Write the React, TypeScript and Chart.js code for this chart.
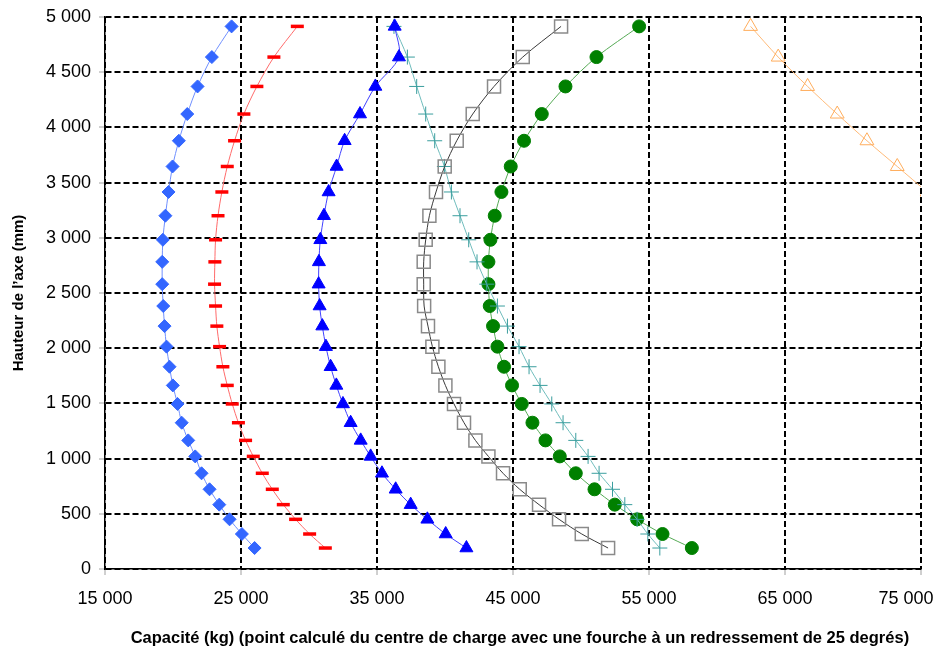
import React, { useEffect, useRef } from 'react';
import { Chart, registerables } from 'chart.js';

Chart.register(...registerables);

// Heights (mm) shared by the series, bottom to top
const heights = [190, 317, 450, 583, 722, 867, 1020, 1165, 1325, 1495, 1663, 1832, 2014, 2200, 2382, 2580, 2782, 2982, 3200, 3415, 3646, 3879, 4121, 4371, 4637, 4915];
const orangeHeights = [3415, 3646, 3879, 4121, 4371, 4637, 4915];

// Capacities (kg)
const diamondCap = [26000, 25065, 24160, 23402, 22688, 22100, 21636, 21121, 20640, 20334, 19988, 19745, 19525, 19378, 19282, 19208, 19208, 19254, 19440, 19672, 19966, 20430, 21048, 21805, 22858, 24307];
const dashCap = [31200, 30046, 29016, 28110, 27301, 26565, 25903, 25337, 24810, 24358, 23990, 23667, 23424, 23225, 23130, 23056, 23078, 23130, 23310, 23593, 23990, 24527, 25212, 26168, 27419, 29141];
const triangleCap = [41574, 40051, 38705, 37477, 36373, 35365, 34533, 33800, 33062, 32496, 32010, 31590, 31245, 30980, 30781, 30708, 30730, 30833, 31100, 31443, 32031, 32620, 33750, 34880, 36615, 36300];
const squareCap = [51992, 50057, 48386, 46915, 45495, 44267, 43193, 42236, 41398, 40662, 40029, 39514, 39073, 38749, 38465, 38433, 38433, 38580, 38853, 39338, 39978, 40861, 42038, 43605, 45717, 48535];
const crossCap = [55796, 54913, 54126, 53221, 52317, 51330, 50521, 49617, 48681, 47850, 46989, 46180, 45444, 44591, 43855, 43068, 42355, 41744, 41104, 40471, 39956, 39242, 38580, 37918, 37234, 36248];
const circleCap = [58150, 55994, 54126, 52486, 50992, 49617, 48440, 47387, 46430, 45643, 44929, 44341, 43855, 43532, 43289, 43193, 43193, 43340, 43657, 44149, 44834, 45812, 47115, 48858, 51138, 54273];
const orangeCap = [75450, 73254, 71026, 68840, 66662, 64500, 62469];

const xTicks = [15000, 25000, 35000, 45000, 55000, 65000, 75000];
const xTitle = 'Capacité (kg) (point calculé du centre de charge avec une fourche à un redressement de 25 degrés)';
const yTitle = 'Hauteur de l’axe (mm)';

const fmt = (v: number) => String(v).replace(/\B(?=(\d{3})+(?!\d))/g, ' ');
const pts = (xs: number[], ys: number[]) => xs.map((x, i) => ({ x, y: ys[i] }));
const NBSP = '\u00a0';

const SANS = '"Liberation Sans", Arial, sans-serif';

export default function App() {
  const ref = useRef<HTMLCanvasElement | null>(null);
  useEffect(() => {
    if (!ref.current) return;
    const common = { showLine: true, tension: 0.3, borderWidth: 1 };
    const chart = new Chart(ref.current, {
      type: 'scatter',
      data: {
        datasets: [
          { ...common, data: pts(diamondCap, heights), borderColor: '#6f8fff', pointStyle: 'rectRot', pointRadius: 6.5, pointBackgroundColor: '#3366ff', pointBorderColor: '#3366ff', pointBorderWidth: 1 },
          { ...common, data: pts(dashCap, heights), borderColor: '#ff6a6a', pointStyle: 'line', pointRadius: 6.5, pointBackgroundColor: '#ff0000', pointBorderColor: '#ff0000', pointBorderWidth: 3.5 },
          { ...common, data: pts(triangleCap, heights), borderColor: '#4040ff', pointStyle: 'triangle', pointRadius: 7.5, pointBackgroundColor: '#0000ff', pointBorderColor: '#0000ff', pointBorderWidth: 1 },
          { ...common, data: pts(squareCap, heights), borderColor: '#3a3a3a', pointStyle: 'rect', pointRadius: 9.2, pointBackgroundColor: 'rgba(0,0,0,0)', pointBorderColor: '#8a8a8a', pointBorderWidth: 1.5 },
          { ...common, data: pts(crossCap, heights), borderColor: '#6fbcbc', pointStyle: 'cross', pointRadius: 7.5, pointBackgroundColor: '#3a9e9e', pointBorderColor: '#3a9e9e', pointBorderWidth: 1 },
          { ...common, data: pts(circleCap, heights), borderColor: '#55aa55', pointStyle: 'circle', pointRadius: 6.5, pointBackgroundColor: '#008000', pointBorderColor: '#008000', pointBorderWidth: 1 },
          { ...common, data: pts(orangeCap, orangeHeights), borderColor: '#ffba78', pointStyle: 'triangle', pointRadius: 8, pointBackgroundColor: 'rgba(0,0,0,0)', pointBorderColor: '#ffad5c', pointBorderWidth: 1 },
        ],
      },
      options: {
        responsive: false,
        animation: false,
        layout: { padding: { top: 17, right: 20, left: 0, bottom: 0 } },
        plugins: { legend: { display: false }, tooltip: { enabled: false } },
        scales: {
          x: {
            type: 'linear',
            min: 15000,
            max: 75000,
            afterBuildTicks: (scale: any) => { scale.ticks = xTicks.map((v) => ({ value: v })); },
            afterFit: (scale: any) => { scale.height = 80; scale.paddingLeft = 0; scale.paddingRight = 0; },
            ticks: {
              callback: (v: any, i: number) => fmt(Number(v)) + (i === xTicks.length - 1 ? NBSP.repeat(6) : ''),
              color: '#000', font: { family: SANS, size: 18 }, padding: 13, maxRotation: 0, autoSkip: false,
            },
            grid: { color: '#000', lineWidth: 2, tickColor: '#a0a0a0', tickLength: 6, tickWidth: 1, tickBorderDash: [] },
            border: { display: true, color: '#000', width: 1.5, dash: [6, 3] },
            title: { display: true, text: NBSP.repeat(3) + xTitle, color: '#000', font: { family: SANS, size: 16.5, weight: 'bold' }, padding: { top: 0, bottom: 1 } },
          },
          y: {
            type: 'linear',
            min: 0,
            max: 5000,
            afterFit: (scale: any) => { scale.width = 105; scale.paddingTop = 0; scale.paddingBottom = 0; },
            ticks: { stepSize: 500, callback: (v: any) => fmt(Number(v)), color: '#000', font: { family: SANS, size: 18 }, padding: 8 },
            grid: { color: '#000', lineWidth: 2, tickColor: '#a0a0a0', tickLength: 6, tickWidth: 1, tickBorderDash: [] },
            border: { display: true, color: '#000', width: 1.5, dash: [6, 3] },
            title: { display: true, text: yTitle, color: '#000', font: { family: SANS, size: 15, weight: 'bold' }, padding: { top: 10, bottom: 0 } },
          },
        },
      } as any,
    });
    return () => chart.destroy();
  }, []);
  return (
    <div style={{ position: 'fixed', left: 0, top: 0, width: 941, height: 649, background: '#fff' }}>
      <canvas ref={ref} width={941} height={649} style={{ width: 941, height: 649 }} />
    </div>
  );
}
